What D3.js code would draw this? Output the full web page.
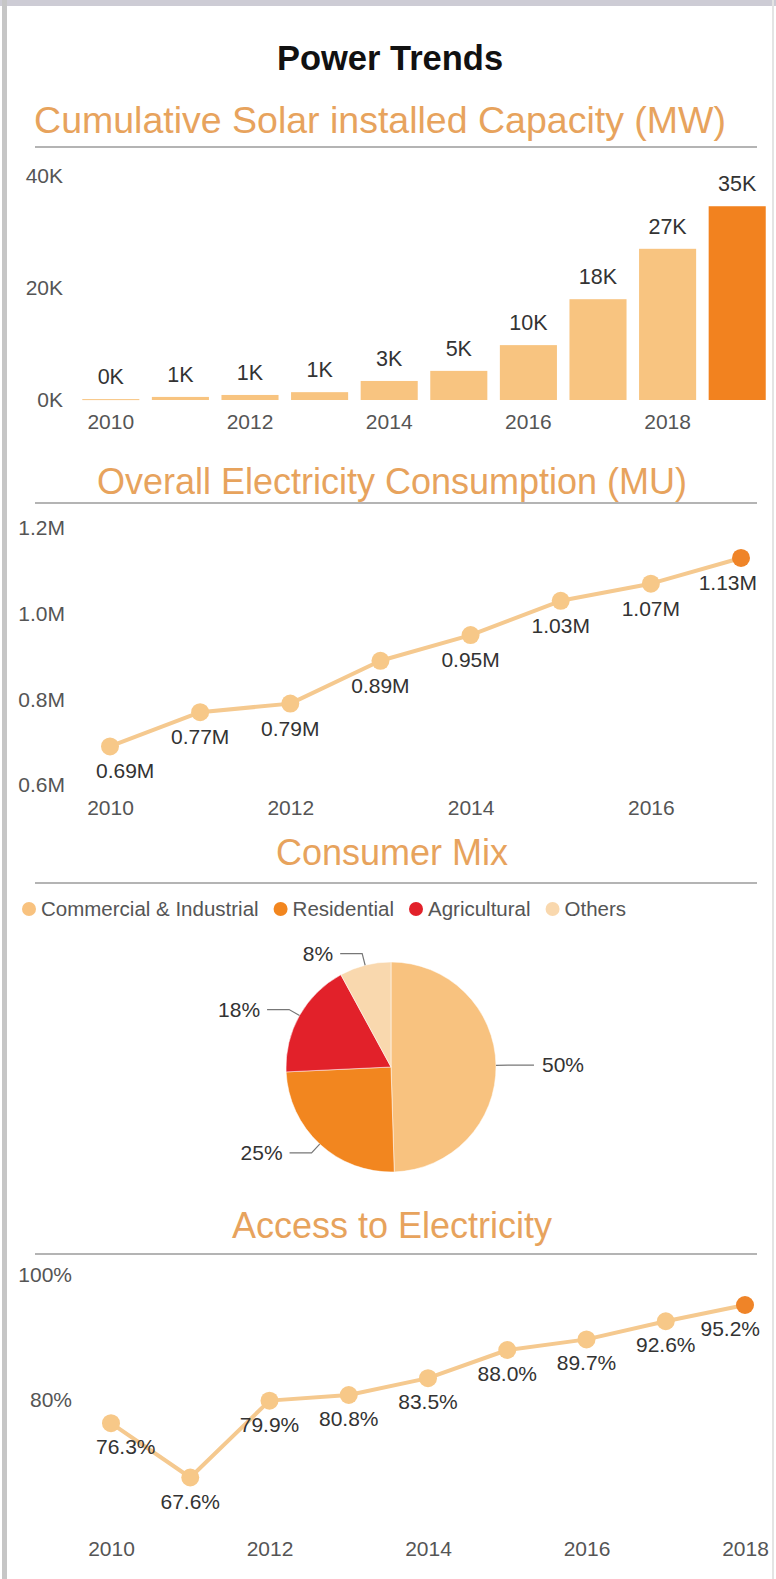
<!DOCTYPE html>
<html>
<head>
<meta charset="utf-8">
<title>Power Trends</title>
<script src="https://cdn.jsdelivr.net/npm/d3@7"></script>
<style>
	body { margin: 0; background: #ffffff; }
	svg { display: block; font-family: "Liberation Sans", Arial, sans-serif; }
</style>
</head>
<body>
<div id="chart"></div>
<script>
// Cumulative solar installed capacity (MW)
var solarYears = [2010, 2011, 2012, 2013, 2014, 2015, 2016, 2017, 2018, 2019];
var solarCapacity = [160, 550, 900, 1400, 3400, 5200, 9800, 18000, 27000, 34600];
var solarTicks = [0, 20000, 40000];
var solarYearTicks = [2010, 2012, 2014, 2016, 2018];

// Overall electricity consumption (million units)
var consumptionYears = [2010, 2011, 2012, 2013, 2014, 2015, 2016, 2017];
var consumption = [0.69, 0.77, 0.79, 0.89, 0.95, 1.03, 1.07, 1.13];
var consumptionTicks = [0.6, 0.8, 1.0, 1.2];
var consumptionYearTicks = [2010, 2012, 2014, 2016];

// Consumer mix
var mixCategories = ["Commercial & Industrial", "Residential", "Agricultural", "Others"];
var mixValues = [50, 25, 18, 8];
var mixColors = ["#f8c27f", "#f2861f", "#e2212a", "#f9d8ae"];

// Access to electricity (%)
var accessYears = [2010, 2011, 2012, 2013, 2014, 2015, 2016, 2017, 2018];
var accessPct = [76.3, 67.6, 79.9, 80.8, 83.5, 88.0, 89.7, 92.6, 95.2];
var accessTicks = [80, 100];
var accessYearTicks = [2010, 2012, 2014, 2016, 2018];

(function(){

	var W = 776, H = 1579;
	var light = "#f8c480", dark = "#f2821f", lineCol = "#f5c98f";
	var titleCol = "#e7a35d", axisCol = "#555555", labelCol = "#333333";

	var svg = d3.select("#chart").append("svg")
		.attr("width", W)
		.attr("height", H);

	// frame
	svg.append("rect").attr("x", 0).attr("y", 0).attr("width", W).attr("height", 6).attr("fill", "#cdccd5");
	svg.append("rect").attr("x", 2).attr("y", 0).attr("width", 5).attr("height", H).attr("fill", "#c6c6c6");
	svg.append("rect").attr("x", 772).attr("y", 0).attr("width", 2).attr("height", H).attr("fill", "#e4e4e4");

	svg.append("text")
		.attr("x", 390).attr("y", 70)
		.attr("text-anchor", "middle")
		.attr("font-size", 34.5).attr("font-weight", "bold")
		.attr("fill", "#111")
		.text("Power Trends");

	function sectionTitle(label, baseline, ruleY, size, cx){
		svg.append("text")
			.attr("x", cx || 392).attr("y", baseline)
			.attr("text-anchor", "middle")
			.attr("font-size", size || 36)
			.attr("fill", titleCol)
			.text(label);
		svg.append("line")
			.attr("x1", 35).attr("x2", 757)
			.attr("y1", ruleY).attr("y2", ruleY)
			.attr("stroke", "#9b9b9b")
			.attr("stroke-width", 1.5);
	}

	function styleAxis(g){
		g.select(".domain").remove();
		g.selectAll("text")
			.attr("font-size", 21)
			.attr("fill", axisCol)
			.attr("font-family", "Liberation Sans, Arial, sans-serif");
	}

	// keep data labels inside the plot area like the original does
	function placeLabels(g, data, xf, yf, fmt, xmin, xmax){
		g.selectAll("text")
			.data(data)
			.enter().append("text")
			.attr("text-anchor", "middle")
			.attr("font-size", 21)
			.attr("fill", labelCol)
			.attr("y", yf)
			.text(fmt)
			.each(function(d, i){
				var w = this.getComputedTextLength();
				var x = xf(d, i);
				x = Math.max(xmin + w / 2, Math.min(xmax - w / 2, x));
				d3.select(this).attr("x", x);
			});
	}

	// ---- Cumulative Solar installed Capacity ----
	sectionTitle("Cumulative Solar installed Capacity (MW)", 133, 147, 37.5, 380);

	var xBar = d3.scaleBand()
		.domain(solarYears)
		.range([76, 772])
		.paddingInner(0.18)
		.paddingOuter(0.09);
	var yBar = d3.scaleLinear().domain([0, 40000]).range([400, 176]);

	svg.append("g")
		.attr("transform", "translate(63,0)")
		.call(d3.axisLeft(yBar).tickValues(solarTicks).tickSize(0).tickPadding(0)
			.tickFormat(function(d){ return (d / 1000) + "K"; }))
		.call(styleAxis);

	svg.append("g")
		.attr("transform", "translate(0,414)")
		.call(d3.axisBottom(xBar).tickValues(solarYearTicks).tickSize(0).tickPadding(0)
			.tickFormat(d3.format("d")))
		.call(styleAxis);

	var last = solarYears.length - 1;
	svg.append("g").selectAll("rect")
		.data(solarCapacity)
		.enter().append("rect")
		.attr("x", function(d, i){ return xBar(solarYears[i]); })
		.attr("width", xBar.bandwidth())
		.attr("y", function(d){ return yBar(d); })
		.attr("height", function(d){ return Math.max(1, yBar(0) - yBar(d)); })
		.attr("fill", function(d, i){ return i == last ? dark : light; });

	svg.append("g").selectAll("text")
		.data(solarCapacity)
		.enter().append("text")
		.attr("x", function(d, i){ return xBar(solarYears[i]) + xBar.bandwidth() / 2; })
		.attr("y", function(d){ return yBar(d) - 15; })
		.attr("text-anchor", "middle")
		.attr("font-size", 21.5)
		.attr("fill", labelCol)
		.text(function(d){ return Math.round(d / 1000) + "K"; });

	// ---- Overall Electricity Consumption ----
	sectionTitle("Overall Electricity Consumption (MU)", 494, 503);

	var xCon = d3.scaleLinear().domain([2010, 2017]).range([110, 741]);
	var yCon = d3.scaleLinear().domain([0.6, 1.2]).range([785, 528]);

	svg.append("g")
		.attr("transform", "translate(65,0)")
		.call(d3.axisLeft(yCon).tickValues(consumptionTicks).tickSize(0).tickPadding(0)
			.tickFormat(function(d){ return d3.format(".1f")(d) + "M"; }))
		.call(styleAxis);

	svg.append("g")
		.attr("transform", "translate(0,800)")
		.call(d3.axisBottom(xCon).tickValues(consumptionYearTicks).tickSize(0).tickPadding(0)
			.tickFormat(d3.format("d")))
		.call(styleAxis);

	drawLine(consumptionYears, consumption, xCon, yCon);
	placeLabels(svg.append("g"), consumption,
		function(d, i){ return xCon(consumptionYears[i]); },
		function(d){ return yCon(d) + 32; },
		function(d){ return d3.format(".2f")(d) + "M"; }, 96, 757);

	function drawLine(xs, ys, sx, sy){
		var pts = ys.map(function(v, i){ return [xs[i], v]; });
		var line = d3.line()
			.x(function(p){ return sx(p[0]); })
			.y(function(p){ return sy(p[1]); });
		svg.append("path")
			.datum(pts)
			.attr("d", line)
			.attr("fill", "none")
			.attr("stroke", lineCol)
			.attr("stroke-width", 4)
			.attr("stroke-linejoin", "round");
		svg.append("g").selectAll("circle")
			.data(pts)
			.enter().append("circle")
			.attr("cx", function(p){ return sx(p[0]); })
			.attr("cy", function(p){ return sy(p[1]); })
			.attr("r", 9)
			.attr("fill", function(p, i){ return i == pts.length - 1 ? "#ef8428" : "#f7c888"; });
	}

	// ---- Consumer Mix ----
	sectionTitle("Consumer Mix", 865, 883);

	var legend = svg.append("g");
	var lx = 29;
	mixCategories.forEach(function(name, i){
		legend.append("circle")
			.attr("cx", lx).attr("cy", 909).attr("r", 7)
			.attr("fill", mixColors[i]);
		var t = legend.append("text")
			.attr("x", lx + 12).attr("y", 916)
			.attr("font-size", 20.5)
			.attr("fill", axisCol)
			.text(name);
		lx = lx + 12 + t.node().getComputedTextLength() + 22;
	});

	var cx = 391, cy = 1067, r = 105;
	var total = d3.sum(mixValues);
	var pie = d3.pie().sort(null)(mixValues);
	var arc = d3.arc().innerRadius(0).outerRadius(r);

	var pieG = svg.append("g").attr("transform", "translate(" + cx + "," + cy + ")");
	pieG.selectAll("path")
		.data(pie)
		.enter().append("path")
		.attr("d", arc)
		.attr("fill", function(d, i){ return mixColors[i]; })
		.attr("stroke", "#ffffff")
		.attr("stroke-opacity", 0.5)
		.attr("stroke-width", 1);

	pie.forEach(function(d){
		var a = (d.startAngle + d.endAngle) / 2;
		var p1 = [Math.sin(a) * r, -Math.cos(a) * r];
		var p2 = [Math.sin(a) * (r + 12), -Math.cos(a) * (r + 12)];
		var right = Math.sin(a) > 0;
		var p3 = [p2[0] + (right ? 26 : -22), p2[1]];
		pieG.append("polyline")
			.attr("points", [p1, p2, p3].map(function(p){ return p.join(","); }).join(" "))
			.attr("fill", "none")
			.attr("stroke", "#777")
			.attr("stroke-width", 1.2);
		pieG.append("text")
			.attr("x", p3[0] + (right ? 8 : -7))
			.attr("y", p3[1] + 7)
			.attr("text-anchor", right ? "start" : "end")
			.attr("font-size", 21)
			.attr("fill", labelCol)
			.text(d3.format(".0%")(d.value / total));
	});

	// ---- Access to Electricity ----
	sectionTitle("Access to Electricity", 1238, 1254);

	var xAcc = d3.scaleLinear().domain([2010, 2018]).range([111, 745]);
	var yAcc = d3.scaleLinear().domain([80, 100]).range([1400, 1275]);

	svg.append("g")
		.attr("transform", "translate(72,0)")
		.call(d3.axisLeft(yAcc).tickValues(accessTicks).tickSize(0).tickPadding(0)
			.tickFormat(function(d){ return d + "%"; }))
		.call(styleAxis);

	svg.append("g")
		.attr("transform", "translate(0,1541)")
		.call(d3.axisBottom(xAcc).tickValues(accessYearTicks).tickSize(0).tickPadding(0)
			.tickFormat(d3.format("d")))
		.call(styleAxis);

	drawLine(accessYears, accessPct, xAcc, yAcc);
	placeLabels(svg.append("g"), accessPct,
		function(d, i){ return xAcc(accessYears[i]); },
		function(d){ return yAcc(d) + 31; },
		function(d){ return d3.format(".1f")(d) + "%"; }, 96, 760);

})();
</script>
</body>
</html>
